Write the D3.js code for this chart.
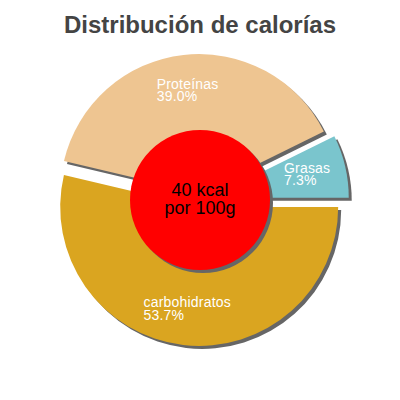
<!DOCTYPE html>
<html>
<head>
<meta charset="utf-8">
<script src="https://cdn.jsdelivr.net/npm/d3@7"></script>
<style>
  body { margin: 0; background: #fff; }
  svg { display: block; }
</style>
</head>
<body>
<svg id="chart" width="400" height="400"></svg>
<script>
// values
const categories = ["carbohidratos", "Proteínas", "Grasas"];
const percents = [53.7, 39.0, 7.3];
const colors = ["#daa520", "#eec591", "#7ac5cd"];
const title = "Distribución de calorías";
const centerLines = ["40 kcal", "por 100g"];

const width = 400, height = 400;
const cx = 200, cy = 200;
const radius = 139;
const explode = [7, 7, 10];
const shadow = 3;

const svg = d3.select("#chart");

svg.append("text")
  .attr("x", width / 2)
  .attr("y", 33)
  .attr("text-anchor", "middle")
  .attr("font-family", "Liberation Sans, Arial, sans-serif")
  .attr("font-weight", "bold")
  .attr("font-size", 24)
  .attr("fill", "#444")
  .text(title);

const pie = d3.pie()
  .sort(null)
  .startAngle(Math.PI / 2)
  .endAngle(Math.PI / 2 + 2 * Math.PI);

const arcs = pie(percents);

const arc = d3.arc().innerRadius(0).outerRadius(radius);
const labelArc = d3.arc().innerRadius(110).outerRadius(110);

const g = svg.append("g").attr("transform", "translate(" + cx + "," + cy + ")");

// offset of each slice along its middle angle
function offset(d, i) {
  const a = (d.startAngle + d.endAngle) / 2;
  return [Math.sin(a) * explode[i], -Math.cos(a) * explode[i]];
}

// shadows first
g.selectAll("path.shadow")
  .data(arcs)
  .join("path")
  .attr("class", "shadow")
  .attr("fill", "#666")
  .attr("transform", (d, i) => {
    const o = offset(d, i);
    return "translate(" + (o[0] + shadow) + "," + (o[1] + shadow) + ")";
  })
  .attr("d", arc);

g.selectAll("path.slice")
  .data(arcs)
  .join("path")
  .attr("class", "slice")
  .attr("fill", (d, i) => colors[i])
  .attr("transform", (d, i) => {
    const o = offset(d, i);
    return "translate(" + o[0] + "," + o[1] + ")";
  })
  .attr("d", arc);

// labels: two lines, left aligned, block centred on the centroid
arcs.forEach((d, i) => {
  const c = labelArc.centroid(d);
  const t = g.append("text")
    .attr("font-family", "Liberation Sans, Arial, sans-serif")
    .attr("font-size", 14)
    .attr("letter-spacing", 0.2)
    .attr("fill", "#fff");
  t.append("tspan").attr("x", 0).attr("y", 0).text(categories[i]);
  t.append("tspan").attr("x", 0).attr("y", 12.5).text(percents[i].toFixed(1) + "%");
  const w = t.node().getBBox().width;
  t.attr("transform", "translate(" + (c[0] - w / 2) + "," + (c[1] - 2) + ")");
});

// center circle
g.append("circle")
  .attr("cx", shadow).attr("cy", shadow)
  .attr("r", 70)
  .attr("fill", "#666");
g.append("circle")
  .attr("r", 70)
  .attr("fill", "#ff0000");

centerLines.forEach((line, i) => {
  g.append("text")
    .attr("x", 0)
    .attr("y", -4 + i * 18)
    .attr("text-anchor", "middle")
    .attr("font-family", "Liberation Sans, Arial, sans-serif")
    .attr("font-size", 18)
    .attr("fill", "#000")
    .text(line);
});
</script>
</body>
</html>
